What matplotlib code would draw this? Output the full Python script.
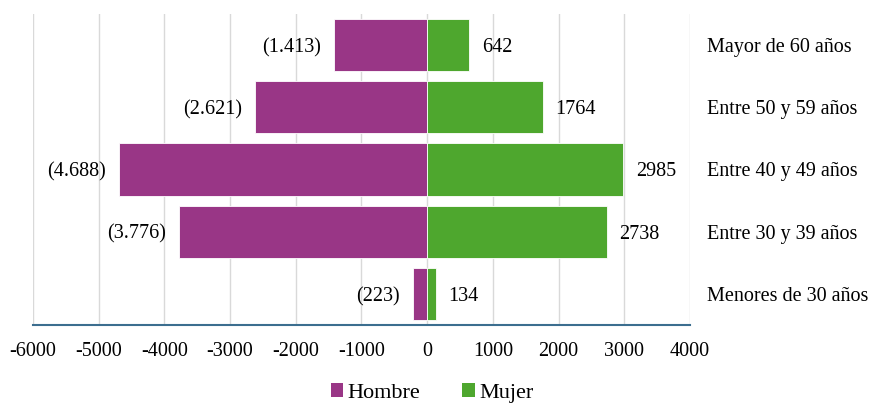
import matplotlib
matplotlib.use("Agg")
import matplotlib.pyplot as plt
from matplotlib.patches import Patch

# Age groups (top to bottom) and counts per sex
categories = ["Mayor de 60 años", "Entre 50 y 59 años", "Entre 40 y 49 años",
              "Entre 30 y 39 años", "Menores de 30 años"]
hombre = [-1413, -2621, -4688, -3776, -223]
mujer = [642, 1764, 2985, 2738, 134]
xticks = [-6000, -5000, -4000, -3000, -2000, -1000, 0, 1000, 2000, 3000, 4000]

c_h = "#993686"
c_m = "#4ea72e"

plt.rcParams["font.family"] = ["Liberation Serif", "DejaVu Serif"]
fs = 14.5

fig = plt.figure(figsize=(8.70, 4.03), dpi=100)
ax = fig.add_axes([33 / 870, 1 - 325 / 403, 657 / 870, 311 / 403])

y = list(range(len(categories)))
ax.barh(y, hombre, height=0.84, color=c_h, edgecolor="white", linewidth=0.6, zorder=2)
ax.barh(y, mujer, height=0.84, color=c_m, edgecolor="white", linewidth=0.6, zorder=2)

for yi, v in zip(y, hombre):
    txt = "(" + f"{abs(v):,}".replace(",", ".") + ")"
    ax.text(v - 200, yi, txt, ha="right", va="center_baseline", fontsize=fs, color="black")
for yi, v in zip(y, mujer):
    ax.text(v + 190, yi, str(v), ha="left", va="center_baseline", fontsize=fs, color="black")

ax.set_xlim(-6000, 4000)
ax.set_ylim(len(categories) - 0.5, -0.5)
ax.set_xticks(xticks)
ax.set_xticklabels([str(t) for t in xticks], fontsize=fs)
ax.tick_params(axis="x", length=0, pad=12)

ax.set_yticks(y)
ax.set_yticklabels(categories, fontsize=fs)
ax.yaxis.tick_right()
ax.tick_params(axis="y", length=0, pad=12)

ax.grid(axis="x", color="#d9d9d9", linewidth=1, zorder=0)
ax.set_axisbelow(True)
for s in ["top", "left", "right"]:
    ax.spines[s].set_visible(False)
ax.spines["bottom"].set_color("#3c6e8f")
ax.spines["bottom"].set_linewidth(1.5)

handles = [Patch(facecolor=c_h, label="Hombre"), Patch(facecolor=c_m, label="Mujer")]
fig.legend(handles=handles, loc="center", bbox_to_anchor=(432 / 870, 1 - 393 / 403),
           ncol=2, frameon=False, fontsize=16, handlelength=0.55, handleheight=0.55,
           handletextpad=0.2, columnspacing=1.9)

fig.savefig("out.png", dpi=100)
